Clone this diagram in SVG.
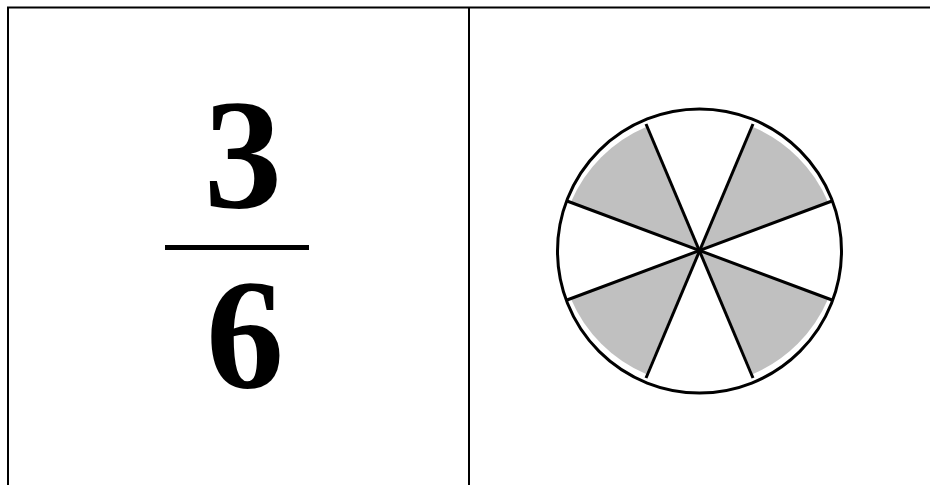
<svg xmlns="http://www.w3.org/2000/svg" width="930" height="485" viewBox="0 0 930 485">
<style>
.border{stroke:#000;stroke-width:2;fill:none}
.num{font-family:"Liberation Serif","Times New Roman",serif;font-weight:bold;font-size:156px;text-anchor:middle;fill:#000}
.wedge{fill:#c0c0c0;stroke:none}
.ln{stroke:#000;stroke-width:3;fill:none}
</style>
<rect width="930" height="485" fill="#fff"/>
<g id="table">
<line class="border" x1="7" y1="7.5" x2="930" y2="7.5"/>
<line class="border" x1="8" y1="7" x2="8" y2="485"/>
<line class="border" x1="469" y1="7" x2="469" y2="485"/>
</g>
<g id="fraction">
<text class="num" x="243" y="207">3</text>
<rect x="165" y="245" width="144" height="5" fill="#000"/>
<text class="num" x="245" y="387">6</text>
</g>
<g id="circle">
<circle cx="699.5" cy="251" r="142" fill="#fff"/>
<path class="wedge" d="M699.5,251 L753,127 A142,142 0 0 1 828,202 Z"/>
<path class="wedge" d="M699.5,251 L828,299 A142,142 0 0 1 753,374 Z"/>
<path class="wedge" d="M699.5,251 L646,374 A142,142 0 0 1 571,299 Z"/>
<path class="wedge" d="M699.5,251 L571,202 A142,142 0 0 1 646,127 Z"/>
<circle class="ln" cx="699.5" cy="251" r="142"/>
<line class="ln" x1="646" y1="124" x2="753" y2="378"/>
<line class="ln" x1="753" y1="124" x2="646" y2="378"/>
<line class="ln" x1="567" y1="201" x2="832" y2="300"/>
<line class="ln" x1="832" y1="201" x2="567" y2="300"/>
</g>
</svg>
